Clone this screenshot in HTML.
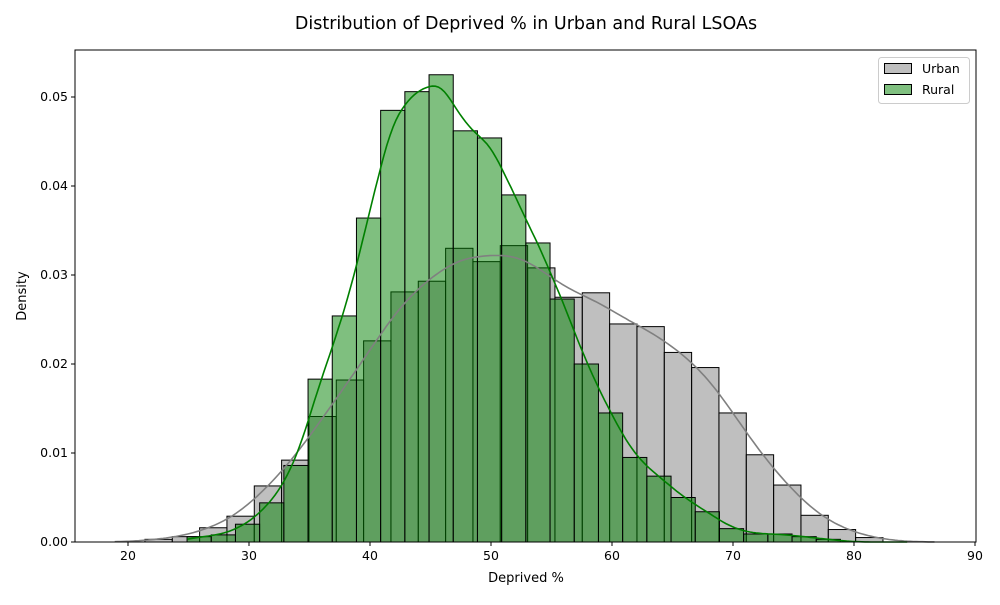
<!DOCTYPE html>
<html><head><meta charset="utf-8"><style>
body{margin:0;background:#fff;font-family:"Liberation Sans","DejaVu Sans",sans-serif}
svg text{font-family:"DejaVu Sans","Liberation Sans",sans-serif}
</style></head><body>
<svg id="chart" width="1000" height="600">
<text x="526" y="29" font-size="17.5" text-anchor="middle">Distribution of Deprived % in Urban and Rural LSOAs</text>
<g id="bars"></g>
<g id="kde"></g>
<rect x="75" y="50" width="901" height="492" fill="none" stroke="#000" stroke-width="1"/>
<g id="xt"></g><g id="yt"></g>
<text x="526" y="582" font-size="13" text-anchor="middle">Deprived %</text>
<text x="26" y="296" font-size="13" text-anchor="middle" transform="rotate(-90 26 296)">Density</text>
<g>
<rect x="878.5" y="57.5" width="91" height="46" rx="3" fill="#fff" stroke="#ccc"/>
<g><rect x="884.5" y="63.5" width="27" height="10" fill="#bfbfbf" stroke="#000"/><text x="922" y="73" font-size="12.5">Urban</text></g>
<g><rect x="884.5" y="84.5" width="27" height="10" fill="#80c080" stroke="#000"/><text x="922" y="94" font-size="12.5">Rural</text></g>
</g>
</svg>
<script>
const urbanStart = 21.40, urbanWidth = 2.259;
const urbanDensity = [0.0003,0.0006,0.0016,0.0029,0.0063,0.0092,0.0141,0.0182,0.0226,0.0281,0.0293,0.0330,0.0315,0.0333,0.0308,0.0275,0.0280,0.0245,0.0242,0.0213,0.0196,0.0145,0.0098,0.0064,0.0030,0.0014,0.0005];
const ruralStart = 24.88, ruralWidth = 2.0;
const ruralDensity = [0.0006,0.0008,0.0020,0.0044,0.0086,0.0183,0.0254,0.0364,0.0485,0.0506,0.0525,0.0462,0.0454,0.0390,0.0336,0.0273,0.0200,0.0145,0.0095,0.0074,0.0050,0.0034,0.0015,0.0009,0.0009,0.0006,0.0003];
const xTicks = [20,30,40,50,60,70,80,90];
const yTicks = [0,0.01,0.02,0.03,0.04,0.05];
const yTickLabels = ["0.00","0.01","0.02","0.03","0.04","0.05"];

const NS="http://www.w3.org/2000/svg";
const X = v => 128 + (v-20)*12.1;
const Y = v => 542 - v*8900;
function mk(tag, attrs, parent){const e=document.createElementNS(NS,tag);for(const k in attrs)e.setAttribute(k,attrs[k]);parent.appendChild(e);return e;}
const bars=document.getElementById('bars');
function drawHist(start,w,vals,fill,name){
  vals.forEach((d,i)=>{
    const x0=X(start+i*w), x1=X(start+(i+1)*w);
    const r=mk('rect',{x:x0,y:Y(d),width:x1-x0,height:542-Y(d),fill:fill,stroke:'#000','stroke-width':1},bars);
    
    
  });
}
drawHist(urbanStart,urbanWidth,urbanDensity,'rgba(128,128,128,0.5)','urban');
drawHist(ruralStart,ruralWidth,ruralDensity,'rgba(0,128,0,0.5)','rural');
const kde=document.getElementById('kde');
function drawKde(start,w,vals,bw,lo,hi,color,name){
  let pts=[];
  for(let x=lo;x<=hi;x+=0.25){
    let s=0;
    vals.forEach((d,i)=>{const c=start+(i+0.5)*w;const z=(x-c)/bw;s+=d*w*Math.exp(-0.5*z*z)/(bw*Math.sqrt(2*Math.PI));});
    pts.push(X(x).toFixed(1)+','+Y(s).toFixed(1));
  }
  const p=mk('polyline',{points:pts.join(' '),fill:'none',stroke:color,'stroke-width':1.6},kde);
  
  
}
drawKde(urbanStart,urbanWidth,urbanDensity,2.1,18.9,86.8,'#808080','urban');
drawKde(ruralStart,ruralWidth,ruralDensity,1.3,24.9,84.5,'#008000','rural');
const xt=document.getElementById('xt');
xTicks.forEach(t=>{
  mk('line',{x1:X(t),x2:X(t),y1:542,y2:546,stroke:'#000'},xt);
  const tx=mk('text',{x:X(t),y:560,'font-size':12.5,'text-anchor':'middle'},xt);tx.textContent=t;
  
  
});
const yt=document.getElementById('yt');
yTicks.forEach((t,i)=>{
  mk('line',{x1:71,x2:75,y1:Y(t),y2:Y(t),stroke:'#000'},yt);
  const tx=mk('text',{x:68,y:Y(t)+4,'font-size':12.5,'text-anchor':'end'},yt);tx.textContent=yTickLabels[i];
  
  
});
</script>
</body></html>
